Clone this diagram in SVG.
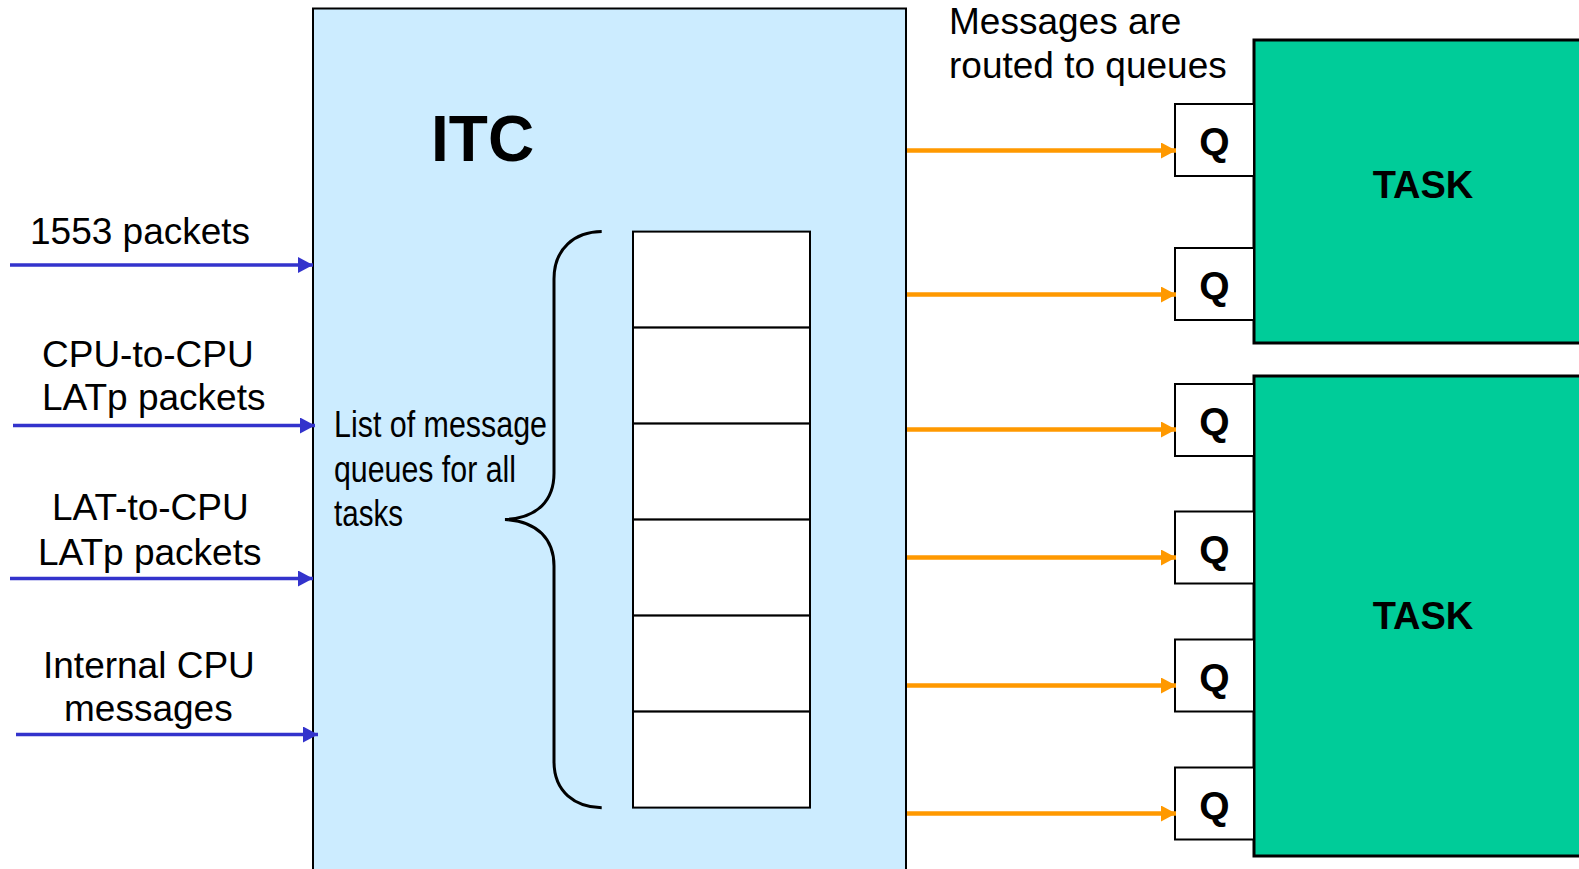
<svg xmlns="http://www.w3.org/2000/svg" width="1579" height="869" viewBox="0 0 1579 869">
  <style>
    .lbl { font-family: "Liberation Sans", Arial, sans-serif; font-size: 37px; fill: #000; }
    .narrow { font-family: "Liberation Sans", Arial, sans-serif; font-size: 36px; fill: #000; }
    .bold { font-family: "Liberation Sans", Arial, sans-serif; font-weight: bold; fill: #000; }
    .in { stroke: #3333CC; stroke-width: 3.5; fill: none; }
    .out { stroke: #FF9900; stroke-width: 4.5; fill: none; }
    .q rect { fill: #FFFFFF; stroke: #000; stroke-width: 2; }
    .task rect { fill: #00CC99; stroke: #000; stroke-width: 3; }
    .cell { fill: #FFFFFF; stroke: #000; stroke-width: 2; }
  </style>
  <defs>
    <marker id="headBlue" markerUnits="userSpaceOnUse" markerWidth="16" markerHeight="16" refX="15" refY="8" orient="auto">
      <path d="M0,0 L15,8 L0,16 Z" fill="#3333CC"/>
    </marker>
    <marker id="headOrange" markerUnits="userSpaceOnUse" markerWidth="16" markerHeight="16" refX="15" refY="8" orient="auto">
      <path d="M0,0 L15,8 L0,16 Z" fill="#FF9900"/>
    </marker>
  </defs>

  <rect width="1579" height="869" fill="#FFFFFF"/>

  <!-- ITC block -->
  <g id="itc">
    <rect x="313" y="8.5" width="593" height="880" fill="#CCECFF" stroke="#000" stroke-width="2"/>
    <text class="bold" x="431" y="161" font-size="64">ITC</text>
    <text class="narrow" x="334" y="437" textLength="213" lengthAdjust="spacingAndGlyphs">List of message</text>
    <text class="narrow" x="334" y="482" textLength="182" lengthAdjust="spacingAndGlyphs">queues for all</text>
    <text class="narrow" x="334" y="526" textLength="69" lengthAdjust="spacingAndGlyphs">tasks</text>
    <path d="M601.7,231.6 C575,232 554,248 554,279 L554,473 C554,500 538,518 505,519.5 C538,521 554,540 554,566 L554,761.5 C554,792 575,807 601.7,807.8" fill="none" stroke="#000" stroke-width="3"/>
  </g>

  <!-- queue list -->
  <g id="queue-list">
    <rect class="cell" x="633" y="231.6" width="177" height="96"/>
    <rect class="cell" x="633" y="327.6" width="177" height="96"/>
    <rect class="cell" x="633" y="423.6" width="177" height="96"/>
    <rect class="cell" x="633" y="519.6" width="177" height="96"/>
    <rect class="cell" x="633" y="615.6" width="177" height="96"/>
    <rect class="cell" x="633" y="711.6" width="177" height="96"/>
  </g>

  <!-- input labels -->
  <g id="inputs">
    <text class="lbl" x="30" y="243.5">1553 packets</text>
    <text class="lbl" x="42" y="366.5">CPU-to-CPU</text>
    <text class="lbl" x="42" y="409.5">LATp packets</text>
    <text class="lbl" x="52" y="520">LAT-to-CPU</text>
    <text class="lbl" x="38" y="564.5">LATp packets</text>
    <text class="lbl" x="43" y="677.5">Internal CPU</text>
    <text class="lbl" x="64" y="721">messages</text>
  </g>

  <!-- tasks -->
  <g id="task-1" class="task">
    <rect x="1254" y="40" width="340" height="303"/>
    <text class="bold" x="1423" y="198" font-size="38" text-anchor="middle">TASK</text>
  </g>
  <g id="task-2" class="task">
    <rect x="1254" y="376" width="340" height="480"/>
    <text class="bold" x="1423" y="629" font-size="38" text-anchor="middle">TASK</text>
  </g>

  <!-- queues -->
  <g id="q1" class="q"><rect x="1175" y="104" width="79" height="72"/><text class="bold" x="1214.5" y="155" font-size="39" text-anchor="middle">Q</text></g>
  <g id="q2" class="q"><rect x="1175" y="248" width="79" height="72"/><text class="bold" x="1214.5" y="299" font-size="39" text-anchor="middle">Q</text></g>
  <g id="q3" class="q"><rect x="1175" y="384" width="79" height="72"/><text class="bold" x="1214.5" y="435" font-size="39" text-anchor="middle">Q</text></g>
  <g id="q4" class="q"><rect x="1175" y="511.5" width="79" height="72"/><text class="bold" x="1214.5" y="562.5" font-size="39" text-anchor="middle">Q</text></g>
  <g id="q5" class="q"><rect x="1175" y="639.5" width="79" height="72"/><text class="bold" x="1214.5" y="690.5" font-size="39" text-anchor="middle">Q</text></g>
  <g id="q6" class="q"><rect x="1175" y="767.5" width="79" height="72"/><text class="bold" x="1214.5" y="818.5" font-size="39" text-anchor="middle">Q</text></g>

  <!-- routing note -->
  <g id="note">
    <text class="lbl" x="949" y="34">Messages are</text>
    <text class="lbl" x="949" y="78">routed to queues</text>
  </g>

  <!-- connectors -->
  <g id="connectors">
    <line class="in" x1="10" y1="265" x2="313" y2="265" marker-end="url(#headBlue)"/>
    <line class="in" x1="13" y1="425.5" x2="315" y2="425.5" marker-end="url(#headBlue)"/>
    <line class="in" x1="10" y1="578.5" x2="313" y2="578.5" marker-end="url(#headBlue)"/>
    <line class="in" x1="16" y1="734.5" x2="318" y2="734.5" marker-end="url(#headBlue)"/>

    <line class="out" x1="907" y1="150.5" x2="1176" y2="150.5" marker-end="url(#headOrange)"/>
    <line class="out" x1="907" y1="294.5" x2="1176" y2="294.5" marker-end="url(#headOrange)"/>
    <line class="out" x1="907" y1="429.5" x2="1176" y2="429.5" marker-end="url(#headOrange)"/>
    <line class="out" x1="907" y1="557.5" x2="1176" y2="557.5" marker-end="url(#headOrange)"/>
    <line class="out" x1="907" y1="685.5" x2="1176" y2="685.5" marker-end="url(#headOrange)"/>
    <line class="out" x1="907" y1="813.5" x2="1176" y2="813.5" marker-end="url(#headOrange)"/>
  </g>
</svg>
